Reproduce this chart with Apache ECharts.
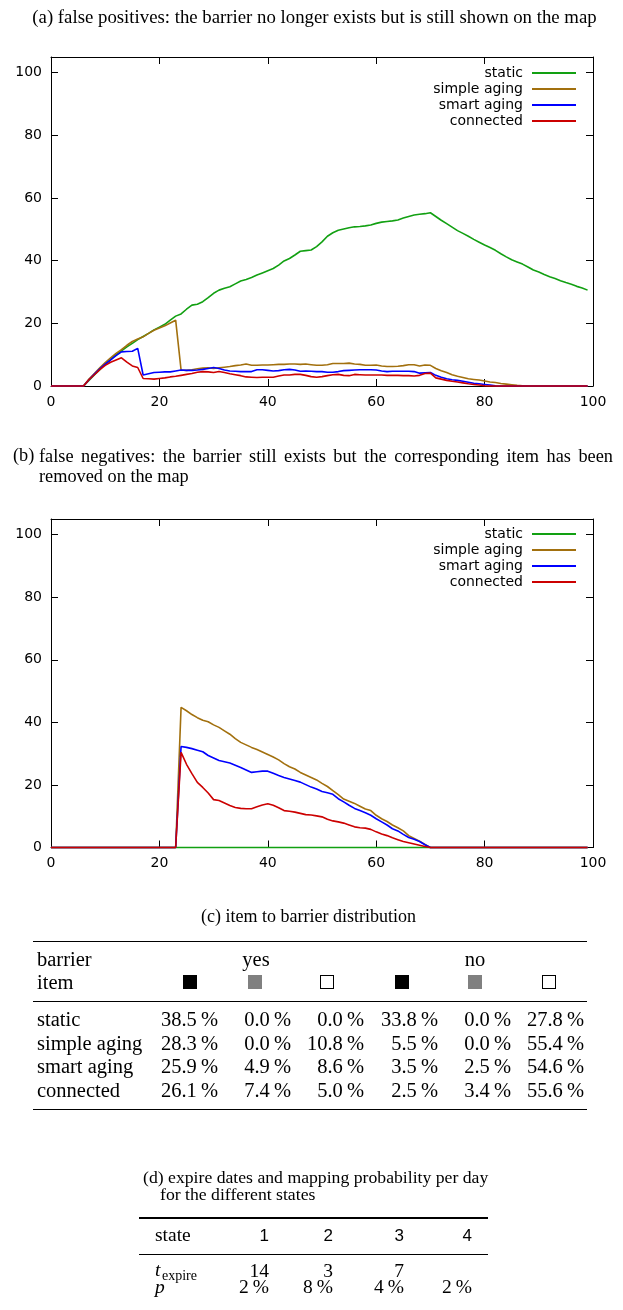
<!DOCTYPE html>
<html><head><meta charset="utf-8">
<script src="https://cdn.jsdelivr.net/npm/echarts@6/dist/echarts.min.js"></script>
<style>
html,body{margin:0;padding:0;background:#fff;}
#wrap{position:relative;width:623px;height:1310px;overflow:hidden;}
#chart{position:absolute;left:0;top:0;width:623px;height:1310px;}
#overlay{position:absolute;left:0;top:0;width:623px;height:1310px;}
#overlay div{position:absolute;color:#000;}
</style></head><body>
<div id="wrap"><div id="chart"></div><div id="overlay"></div></div>
<script>
// ---------------- data ----------------
const days = [0,1,2,3,4,5,6,7,8,9,10,11,12,13,14,15,16,17,18,19,20,21,22,23,24,25,26,27,28,29,30,31,32,33,34,35,36,37,38,39,40,41,42,43,44,45,46,47,48,49,50,51,52,53,54,55,56,57,58,59,60,61,62,63,64,65,66,67,68,69,70,71,72,73,74,75,76,77,78,79,80,81,82,83,84,85,86,87,88,89,90,91,92,93,94,95,96,97,98,99];
const seriesNames = ['static','simple aging','smart aging','connected'];
const xTicks = [0,20,40,60,80,100];
const yTicks = [0,20,40,60,80,100];

// (a) false positives
const staticA = [0,0,0,0,0,0,0,1.8,3.5,5.2,
 7.0,8.4,10.0,11.2,12.5,13.6,14.8,15.8,16.8,17.9,
 18.8,19.7,21.0,22.3,23.0,24.5,25.8,26.1,26.9,28.2,
 29.6,30.6,31.2,31.7,32.6,33.5,34.0,34.6,35.4,36.1,
 36.8,37.5,38.6,39.9,40.7,41.8,43.0,43.2,43.4,44.5,
 46.0,47.8,48.9,49.7,50.1,50.5,50.8,50.9,51.1,51.4,
 51.9,52.3,52.5,52.7,53.0,53.6,54.1,54.6,54.8,55.0,
 55.3,54.1,52.9,51.8,50.7,49.6,48.7,47.8,46.8,45.9,
 45.0,44.2,43.3,42.2,41.2,40.3,39.6,38.9,38.0,37.0,
 36.4,35.6,34.9,34.3,33.6,33.0,32.5,31.8,31.3,30.6];
const simpleA = [0,0,0,0,0,0,0,2.2,4.0,5.8,
 7.5,9.0,10.4,11.6,13.0,14.2,15.0,15.7,16.8,17.8,
 18.5,19.2,20.1,21.0,5.1,5.0,5.2,5.5,5.7,5.8,
 5.6,5.8,6.0,6.2,6.5,6.7,7.0,6.6,6.6,6.7,
 6.7,6.8,6.9,6.9,7.0,7.0,6.9,7.0,6.8,6.6,
 6.6,6.8,7.2,7.2,7.2,7.3,7.0,6.9,6.6,6.6,
 6.7,6.4,6.2,6.2,6.3,6.5,6.8,6.8,6.4,6.7,
 6.6,5.6,4.9,4.3,3.6,3.1,2.7,2.3,2.1,1.9,
 1.6,1.3,1.1,0.8,0.6,0.4,0.2,0.1,0,0,
 0,0,0,0,0,0,0,0,0,0];
const smartA = [0,0,0,0,0,0,0,2.0,3.8,5.5,
 7.0,8.3,9.7,10.9,11.0,11.1,12.0,3.5,3.9,4.3,
 4.4,4.5,4.5,4.8,5.1,5.0,5.0,5.1,5.3,5.6,
 5.9,5.6,5.1,4.8,4.7,4.6,4.6,4.6,5.2,5.2,
 5.0,4.8,4.9,5.2,5.3,5.1,4.7,4.8,4.7,4.6,
 4.6,4.4,4.4,4.6,4.9,5.0,5.1,5.2,5.2,5.2,
 5.1,4.8,4.6,4.7,4.7,4.7,4.7,4.6,4.1,4.2,
 4.3,3.4,2.8,2.3,2.0,1.8,1.5,1.2,0.9,0.7,
 0.5,0.3,0.1,0,0,0,0,0,0,0,
 0,0,0,0,0,0,0,0,0,0];
const connectedA = [0,0,0,0,0,0,0,2.0,3.6,5.2,
 6.6,7.6,8.3,9.0,7.6,6.4,5.9,2.4,2.3,2.2,
 2.4,2.6,2.9,3.1,3.4,3.7,4.0,4.4,4.6,4.5,
 4.3,4.6,4.3,3.9,3.6,3.3,2.9,2.8,2.7,2.8,
 2.8,2.8,3.2,3.5,3.5,3.7,3.7,3.4,3.0,2.8,
 3.0,3.3,3.6,3.7,3.4,3.3,3.7,3.6,3.5,3.5,
 3.5,3.5,3.4,3.4,3.4,3.3,3.3,3.2,3.4,4.0,
 4.1,2.6,2.2,1.8,1.5,1.3,1.0,0.7,0.5,0.3,
 0.1,0,0,0,0,0,0,0,0,0,
 0,0,0,0,0,0,0,0,0,0];

// (b) false negatives
const staticB = [0,0,0,0,0,0,0,0,0,0,
 0,0,0,0,0,0,0,0,0,0,
 0,0,0,0,0,0,0,0,0,0,
 0,0,0,0,0,0,0,0,0,0,
 0,0,0,0,0,0,0,0,0,0,
 0,0,0,0,0,0,0,0,0,0,
 0,0,0,0,0,0,0,0,0,0,
 0,0,0,0,0,0,0,0,0,0,
 0,0,0,0,0,0,0,0,0,0,
 0,0,0,0,0,0,0,0,0,0];
const simpleB = [0,0,0,0,0,0,0,0,0,0,
 0,0,0,0,0,0,0,0,0,0,
 0,0,0,0,44.8,43.7,42.5,41.5,40.7,40.2,
 39.2,38.4,37.3,36.2,34.8,33.6,32.8,32.0,31.3,30.5,
 29.7,28.9,28.0,26.8,25.8,25.1,24.0,23.2,22.4,21.6,
 20.5,19.5,18.2,16.9,15.5,14.8,14.1,13.2,12.3,11.8,
 10.3,9.2,8.3,7.2,6.3,5.3,3.8,2.9,2.0,1.0,
 0,0,0,0,0,0,0,0,0,0,
 0,0,0,0,0,0,0,0,0,0,
 0,0,0,0,0,0,0,0,0,0];
const smartB = [0,0,0,0,0,0,0,0,0,0,
 0,0,0,0,0,0,0,0,0,0,
 0,0,0,0,32.3,32.0,31.6,31.1,30.6,29.4,
 28.6,27.8,27.4,27.0,26.3,25.6,24.8,24.0,24.2,24.4,
 24.4,23.7,23.0,22.4,21.9,21.4,20.9,20.1,19.3,18.7,
 17.9,17.5,17.0,15.6,14.6,13.5,12.5,11.8,11.1,10.3,
 9.2,8.2,7.2,6.0,5.3,4.2,3.2,2.6,1.9,0.9,
 0,0,0,0,0,0,0,0,0,0,
 0,0,0,0,0,0,0,0,0,0,
 0,0,0,0,0,0,0,0,0,0];
const connectedB = [0,0,0,0,0,0,0,0,0,0,
 0,0,0,0,0,0,0,0,0,0,
 0,0,0,0,30.4,26.6,23.6,20.8,19.2,17.4,
 15.3,15.0,14.2,13.4,12.8,12.5,12.4,12.4,13.0,13.6,
 14.0,13.5,12.7,11.8,11.6,11.3,10.9,10.5,10.4,10.1,
 9.8,9.0,8.5,8.2,7.8,7.2,6.6,6.3,6.2,5.8,
 5.0,4.3,3.8,3.1,2.5,1.9,1.5,1.1,0.7,0.3,
 0,0,0,0,0,0,0,0,0,0,
 0,0,0,0,0,0,0,0,0,0,
 0,0,0,0,0,0,0,0,0,0];

// captions and tables
const captionA = '(a) false positives: the barrier no longer exists but is still shown on the map';
const captionBLabel = '(b)';
const captionBText = 'false negatives: the barrier still exists but the corresponding item has been removed on the map';
const captionC = '(c) item to barrier distribution';
const captionD1 = '(d) expire dates and mapping probability per day';
const captionD2 = 'for the different states';
const tableCHeader1 = ['barrier', 'yes', 'no'];
const tableCHeader2 = 'item';
const tableCItems = ['black','gray','white','black','gray','white'];
const tableCRows = ['static','simple aging','smart aging','connected'];
const tableCValues = [
  ['38.5','0.0','0.0','33.8','0.0','27.8'],
  ['28.3','0.0','10.8','5.5','0.0','55.4'],
  ['25.9','4.9','8.6','3.5','2.5','54.6'],
  ['26.1','7.4','5.0','2.5','3.4','55.6']
];
const tableDStates = ['1','2','3','4'];
const tableDExpire = ['14','3','7',''];
const tableDProb = ['2','8','4','2'];

// ---------------- chart ----------------
const COLORS = ['#12a012','#a2700e','#0000ff','#cc0000'];
const SANS = 'DejaVu Sans';
const seriesA = [staticA, simpleA, smartA, connectedA];
const seriesB = [staticB, simpleB, smartB, connectedB];

function xAx(g, pos) {
  return {type:'value', gridIndex:g, position:pos, min:0, max:100, interval:20,
    axisLine:{show:true, onZero:false, lineStyle:{color:'#000', width:1}},
    axisTick:{show:true, inside:true, length:7, lineStyle:{color:'#000', width:1}},
    axisLabel:{show:pos==='bottom', color:'#000', fontFamily:SANS, fontSize:14, margin:9,
      formatter:v => xTicks.indexOf(v) >= 0 ? String(v) : ''},
    splitLine:{show:false}};
}
function yAx(g, pos) {
  return {type:'value', gridIndex:g, position:pos, min:0, max:105, interval:20,
    axisLine:{show:true, onZero:false, lineStyle:{color:'#000', width:1}},
    axisTick:{show:true, inside:true, length:7, lineStyle:{color:'#000', width:1}},
    axisLabel:{show:pos==='left', color:'#000', fontFamily:SANS, fontSize:14, margin:9, showMaxLabel:false,
      formatter:v => yTicks.indexOf(v) >= 0 ? String(v) : ''},
    splitLine:{show:false}};
}
function legend(top) {
  return {orient:'vertical', right:47, top:top, align:'right', padding:0, itemGap:0,
    itemWidth:44, itemHeight:2, icon:'rect', selectedMode:false, data:seriesNames,
    textStyle:{fontFamily:SANS, fontSize:14, color:'#000', lineHeight:16, padding:[0,4,0,0]}};
}
const series = [];
[seriesA, seriesB].forEach((set, g) => {
  set.forEach((vals, i) => {
    series.push({type:'line', name:seriesNames[i], xAxisIndex:g*2, yAxisIndex:g*2,
      data: days.map((d, k) => [d, vals[k]]), symbol:'none', showSymbol:false, clip:false,
      lineStyle:{width:1.6, color:COLORS[i]}, itemStyle:{color:COLORS[i]}, z:2+i});
  });
});
const chart = echarts.init(document.getElementById('chart'), null, {renderer:'canvas'});
chart.setOption({
  animation:false,
  grid:[{left:51, right:30, top:57, height:329}, {left:51, right:30, top:519, height:328.5}],
  xAxis:[xAx(0,'bottom'), xAx(0,'top'), xAx(1,'bottom'), xAx(1,'top')],
  yAxis:[yAx(0,'left'), yAx(0,'right'), yAx(1,'left'), yAx(1,'right')],
  legend:[legend(65), legend(526)],
  series: series
});

// ---------------- overlay text ----------------
const overlay = document.getElementById('overlay');
const SERIF = '"Liberation Serif","Times New Roman",serif';
const SANS2 = '"Liberation Sans",Arial,sans-serif';
function place(text, o) {
  const size = o.size, font = o.font || SERIF;
  const lh = Math.round(size * 1.25);
  const asc = font === SERIF ? 0.891 : 0.905, desc = font === SERIF ? 0.216 : 0.212;
  const top = o.base - ((lh - (asc + desc) * size) / 2 + asc * size);
  const d = document.createElement('div');
  d.style.fontFamily = font; d.style.fontSize = size + 'px'; d.style.lineHeight = lh + 'px';
  d.style.top = top + 'px'; d.style.whiteSpace = 'nowrap';
  if (o.italic) d.style.fontStyle = 'italic';
  const w = o.w || 600;
  if (!o.align || o.align === 'left') d.style.left = o.x + 'px';
  else if (o.align === 'right') { d.style.left = (o.x - w) + 'px'; d.style.width = w + 'px'; d.style.textAlign = 'right'; }
  else { d.style.left = (o.x - w / 2) + 'px'; d.style.width = w + 'px'; d.style.textAlign = 'center'; }
  d.textContent = text;
  overlay.appendChild(d);
  return d;
}
function rule(x1, x2, y, t) {
  const d = document.createElement('div');
  d.style.left = x1 + 'px'; d.style.width = (x2 - x1) + 'px';
  d.style.top = (y - t / 2) + 'px'; d.style.height = t + 'px'; d.style.background = '#000';
  overlay.appendChild(d);
}
function square(cx, bottom, kind) {
  const s = 14;
  const d = document.createElement('div');
  d.style.left = (cx - s / 2) + 'px'; d.style.top = (bottom - s) + 'px';
  d.style.width = s + 'px'; d.style.height = s + 'px'; d.style.boxSizing = 'border-box';
  if (kind === 'black') d.style.background = '#000';
  else if (kind === 'gray') d.style.background = '#808080';
  else { d.style.background = '#fff'; d.style.border = '1px solid #000'; }
  overlay.appendChild(d);
}
const CAP = 18.3;
// caption (a)
place(captionA, {x:314.5, base:23, size:18.8, align:'center', w:623});
// caption (b) with hanging indent, justified
place(captionBLabel, {x:13, base:461.7, size:CAP});
(function(){
  const d = document.createElement('div');
  const lh = 20;
  d.style.left = '39px'; d.style.width = '574px';
  d.style.fontFamily = SERIF; d.style.fontSize = CAP + 'px'; d.style.lineHeight = lh + 'px';
  d.style.textAlign = 'justify'; d.style.whiteSpace = 'normal'; d.style.hyphens = 'none';
  d.style.top = (461.7 - ((lh - 1.107 * CAP) / 2 + 0.891 * CAP)) + 'px';
  d.textContent = captionBText;
  overlay.appendChild(d);
})();
// caption (c)
place(captionC, {x:308.5, base:923, size:18.0, align:'center', w:623});
// table (c)
const TC = 20.5;
rule(33, 587, 941.5, 1.6);
place(tableCHeader1[0], {x:37, base:965.7, size:TC});
place(tableCHeader1[1], {x:256, base:965.7, size:TC, align:'center', w:80});
place(tableCHeader1[2], {x:475, base:965.7, size:TC, align:'center', w:80});
place(tableCHeader2, {x:37, base:989, size:TC});
const sqX = [190, 255, 327, 402, 475, 549];
tableCItems.forEach((k, i) => square(sqX[i], 989, k));
rule(33, 587, 1001, 1);
const colR = [218, 291, 364, 438, 511, 584];
const rowBase = [1026, 1049.5, 1073, 1096.5];
tableCRows.forEach((name, r) => {
  place(name, {x:37, base:rowBase[r], size:TC});
  tableCValues[r].forEach((v, c) => place(v + '\u2009%', {x:colR[c], base:rowBase[r], size:TC, align:'right', w:100}));
});
rule(33, 587, 1109.3, 1.6);
// caption (d)
const CAPD = 17.7;
place(captionD1, {x:143, base:1182.7, size:CAPD});
place(captionD2, {x:160, base:1200, size:CAPD});
// table (d)
const TD = 19.5;
rule(139, 488, 1218, 1.6);
place('state', {x:155, base:1241.7, size:TD});
const dR = [269, 333, 404, 472];
tableDStates.forEach((s, i) => place(s, {x:dR[i], base:1241.7, size:17, font:SANS2, align:'right', w:60}));
rule(139, 488, 1254.3, 1);
place('t', {x:155, base:1276.5, size:TD, italic:true});
place('expire', {x:162, base:1280.5, size:14});
tableDExpire.forEach((s, i) => { if (s) place(s, {x:dR[i], base:1277.3, size:TD, align:'right', w:60}); });
place('p', {x:155, base:1294, size:TD, italic:true});
tableDProb.forEach((s, i) => place(s + '\u2009%', {x:dR[i], base:1294, size:TD, align:'right', w:60}));
</script>
</body></html>
